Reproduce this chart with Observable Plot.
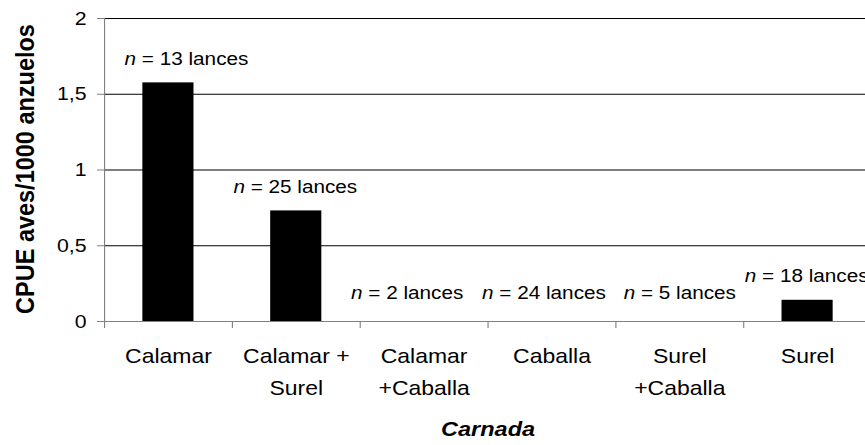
<!DOCTYPE html>
<html>
<head>
<meta charset="utf-8">
<script src="https://cdn.jsdelivr.net/npm/d3@7"></script>
<script src="https://cdn.jsdelivr.net/npm/@observablehq/plot@0.6"></script>
<style>
  html, body { margin: 0; padding: 0; background: #fff; }
  #chart { width: 865px; height: 445px; overflow: hidden; }
</style>
</head>
<body>
<div id="chart"></div>
<script>
// ---- data ----
const categories = ["Calamar", "Calamar +\nSurel", "Calamar\n+Caballa", "Caballa", "Surel\n+Caballa", "Surel"];
const cpue = [1.575, 0.73, 0, 0, 0, 0.14];
const lances = [13, 25, 2, 24, 5, 18];
const yTicks = [0, 0.5, 1, 1.5, 2];
const yTitle = "CPUE aves/1000 anzuelos";
const xTitle = "Carnada";

// ---- layout (the reference is stretched horizontally) ----
const W = 772, H = 445;
const S = 865 / W;
const px = v => v / S;
const step = (871 - 104) / categories.length;
const labelNudge = [18, -1, -17, -8, 0, -1];

const data = categories.map((c, i) => ({i, category: c, value: cpue[i], n: lances[i]}));

const chart = Plot.plot({
  width: W,
  height: H,
  marginTop: 18,
  marginBottom: 124,
  marginLeft: px(104),
  marginRight: 0,
  style: {fontFamily: "'Liberation Sans', Arial, sans-serif", fontSize: "19px", background: "white", color: "black"},
  x: {domain: [0, categories.length], range: [px(104), px(871)], axis: null},
  y: {domain: [0, 2], axis: null},
  marks: [
    Plot.ruleY(yTicks.filter(d => d > 0), {stroke: "black", strokeWidth: 1}),
    Plot.rectY(data, {x1: d => d.i + 0.3, x2: d => d.i + 0.7, y1: 0, y2: "value", fill: "black"}),
    Plot.ruleY([0], {stroke: "#808080"}),
    Plot.ruleX([0], {stroke: "#808080"}),
    Plot.axisY({ticks: yTicks, tickFormat: d => String(d).replace(".", ","), tickSize: px(7), tickPadding: px(11),
                stroke: "#808080", fill: "black", fontSize: 19, label: null}),
    Plot.axisX({ticks: d3.range(categories.length + 1), tickSize: 7, stroke: "#808080", fill: "none", label: null}),
    Plot.axisX({ticks: data.map(d => d.i + 0.5), tickFormat: d => categories[Math.floor(d)], tickSize: 0, tickPadding: 19,
                fontSize: 20.5, lineHeight: 1.55, fill: "black", label: null}),
    Plot.text(data.filter(d => d.value > 0), {x: d => d.i + 0.5 + labelNudge[d.i] / step, y: "value",
                text: d => `n = ${d.n} lances`, dy: -24, fontSize: 18.5, fill: "black"}),
    Plot.text(data.filter(d => d.value === 0), {x: d => d.i + 0.5 + labelNudge[d.i] / step, y: "value",
                text: d => `n = ${d.n} lances`, dy: -28, fontSize: 18.5, fill: "black"}),
    Plot.text([yTitle], {text: d => d, frameAnchor: "left", textAnchor: "middle", lineAnchor: "middle", rotate: -90,
                dx: px(25) - px(104), dy: -1, fontSize: 23.5, fontWeight: "bold", fill: "black"}),
    Plot.text([xTitle], {text: d => d, frameAnchor: "bottom", lineAnchor: "middle", dx: 2.7, dy: 108,
                fontSize: 21, fontWeight: "bold", fontStyle: "italic", fill: "black"})
  ]
});

// italic "n" in the sample-size labels
d3.select(chart).selectAll("text").filter(function() {
  return /^n = \d+ lances$/.test(this.textContent);
}).each(function() {
  const rest = this.textContent.slice(1);
  while (this.firstChild) this.removeChild(this.firstChild);
  d3.select(this).append("tspan").attr("font-style", "italic").style("font-style", "italic").text("n");
  d3.select(this).append("tspan").text(rest);
});

// stretch horizontally like the reference
chart.setAttribute("preserveAspectRatio", "none");
chart.setAttribute("width", 865);
chart.setAttribute("height", 445);
chart.style.width = "865px";
chart.style.height = "445px";
chart.style.maxWidth = "none";

document.getElementById("chart").appendChild(chart);
</script>
</body>
</html>
